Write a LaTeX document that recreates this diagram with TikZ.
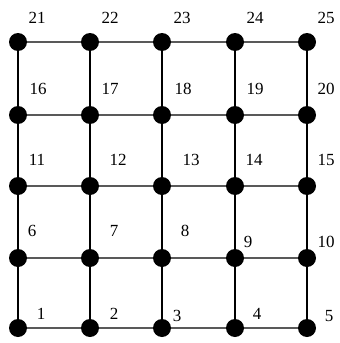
\documentclass[tikz,border=0pt]{standalone}
\usepackage{fontspec}
\setmainfont{Liberation Serif}
\tikzset{
  vtx/.style={circle,fill=black,inner sep=0pt,minimum size=18pt},
  lbl/.style={font=\fontsize{17}{20}\selectfont,inner sep=0pt},
  hline/.style={draw=black!65,line width=1.1pt},
  vline/.style={draw=black,line width=1.1pt}
}
\begin{document}
\begin{tikzpicture}[x=1pt,y=-1pt]
\useasboundingbox (0,0) rectangle (340,343);
% node centres
\foreach \c [count=\i from 0] in {18,90,162,235,307}{
  \foreach \r [count=\j from 0] in {328,258,186,115,42}{
    \pgfmathtruncatemacro\n{\j*5+\i+1}
    \coordinate (p\n) at (\c,\r);
  }
}
% edges
\foreach \a/\b in {1/2,2/3,3/4,4/5,6/7,7/8,8/9,9/10,11/12,12/13,13/14,14/15,16/17,17/18,18/19,19/20,21/22,22/23,23/24,24/25}
  \draw[hline] (p\a) -- (p\b);
\foreach \a/\b in {1/6,6/11,11/16,16/21,2/7,7/12,12/17,17/22,3/8,8/13,13/18,18/23,4/9,9/14,14/19,19/24,5/10,10/15,15/20,20/25}
  \draw[vline] (p\a) -- (p\b);
\foreach \n in {1,...,25}
  \node[vtx] (v\n) at (p\n) {};
% labels
\foreach \n/\x/\y in {21/37/18,22/110/18,23/182/18,24/255/18,25/326/18,
  16/38/89,17/110/89,18/183/89,19/255/89,20/326/89,
  11/37/160,12/118/160,13/191/160,14/254/160,15/326/160,
  6/32/231,7/114/231,8/185/231,9/248/242,10/326/242,
  1/41/314,2/114/314,3/177/316,4/257/314,5/329/316}
  \node[lbl] (l\n) at (\x,\y) {\n};
\end{tikzpicture}
\end{document}
